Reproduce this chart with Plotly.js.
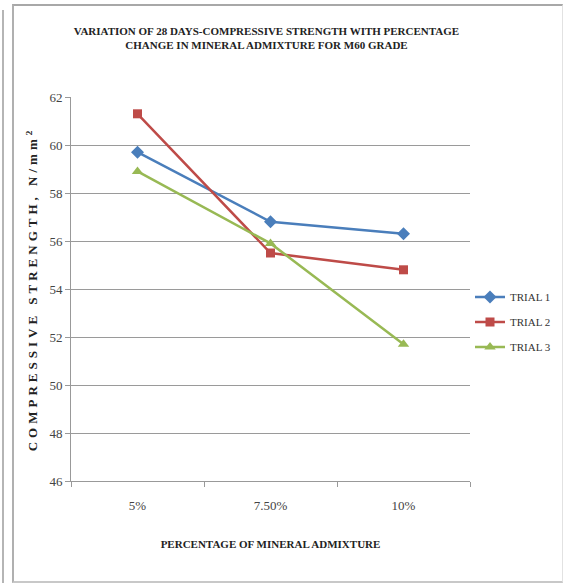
<!DOCTYPE html>
<html>
<head>
<meta charset="utf-8">
<script src="https://cdn.plot.ly/plotly-3.0.1.min.js"></script>
<style>
html,body{margin:0;padding:0;background:#fff;}
#wrap{position:relative;width:563px;height:583px;overflow:hidden;background:#fff;}
#leftline{position:absolute;left:2px;top:10px;width:2px;height:573px;background:#b5b5b5;}
#frame{position:absolute;left:12px;top:4px;width:548px;height:575px;border-top:2px solid #a8a8a8;border-left:2px solid #b0b0b0;border-bottom:2px solid #c8c8c8;border-right:1px solid #e2e2e2;}
#chart{position:absolute;left:0;top:0;width:563px;height:583px;}
#chart .ytitle{letter-spacing:4px;}
</style>
</head>
<body>
<div id="wrap">
<div id="leftline"></div>
<div id="frame"></div>
<div id="chart"></div>
</div>
<script>
const categories = ['5%', '7.50%', '10%'];
const trial1 = [59.7, 56.8, 56.3];
const trial2 = [61.3, 55.5, 54.8];
const trial3 = [58.9, 55.9, 51.7];
const seriesNames = ['TRIAL 1', 'TRIAL 2', 'TRIAL 3'];
const yTicks = [46, 48, 50, 52, 54, 56, 58, 60, 62];

const serif = 'Liberation Serif, Times New Roman, serif';
const traces = [
  {x: categories, y: trial1, name: seriesNames[0], legendgroup: 'g1', type: 'scatter', mode: 'lines+markers',
   line: {color: '#4a7ebb', width: 2.5}, marker: {symbol: 'diamond', size: 10, color: '#4a7ebb'}},
  {x: categories, y: trial2, name: seriesNames[1], legendgroup: 'g2', type: 'scatter', mode: 'lines+markers',
   line: {color: '#be4b48', width: 2.5}, marker: {symbol: 'square', size: 9, color: '#be4b48'}},
  {x: categories, y: trial3, name: seriesNames[2], legendgroup: 'g3', type: 'scatter', mode: 'lines+markers',
   line: {color: '#98b954', width: 2.5}, marker: {symbol: 'triangle-up', size: 10, color: '#98b954'}}
];

const layout = {
  width: 563, height: 583,
  paper_bgcolor: 'rgba(0,0,0,0)', plot_bgcolor: 'rgba(0,0,0,0)',
  margin: {l: 71, r: 93, t: 97, b: 102, autoexpand: false},
  title: {
    text: '<b>VARIATION OF 28 DAYS-COMPRESSIVE STRENGTH WITH PERCENTAGE<br>CHANGE IN MINERAL ADMIXTURE FOR M60 GRADE</b>',
    font: {family: serif, size: 11, color: '#222'},
    x: 0.49, xref: 'paper', y: 0.94, yanchor: 'middle'
  },
  xaxis: {
    type: 'category', range: [-0.5, 2.5], tickson: 'boundaries', ticks: 'outside', ticklen: 5, tickcolor: '#999',
    showline: true, linecolor: '#999', linewidth: 1, showgrid: false, zeroline: false,
    tickfont: {family: serif, size: 13, color: '#444'}, ticklabelstandoff: 12,
    title: {text: '<b>PERCENTAGE OF MINERAL ADMIXTURE</b>', font: {family: serif, size: 11, color: '#222'}, standoff: 28}
  },
  yaxis: {
    range: [46, 62], tickvals: yTicks, ticks: 'outside', ticklen: 5, tickcolor: '#999',
    showline: true, linecolor: '#999', linewidth: 1,
    showgrid: true, gridcolor: '#9a9a9a', gridwidth: 1, zeroline: false,
    tickfont: {family: serif, size: 13, color: '#444'},
    title: {text: '<b>COMPRESSIVE STRENGTH, N/mm<sup>2</sup></b>', font: {family: serif, size: 13, color: '#222'}, standoff: 8}
  },
  legend: {
    x: 1.0, xanchor: 'left', y: 0.414, yanchor: 'middle',
    font: {family: serif, size: 11, color: '#333'},
    itemwidth: 30, tracegroupgap: 6, bgcolor: 'rgba(0,0,0,0)'
  },
  showlegend: true
};

Plotly.newPlot('chart', traces, layout, {displayModeBar: false, staticPlot: true});
</script>
</body>
</html>
